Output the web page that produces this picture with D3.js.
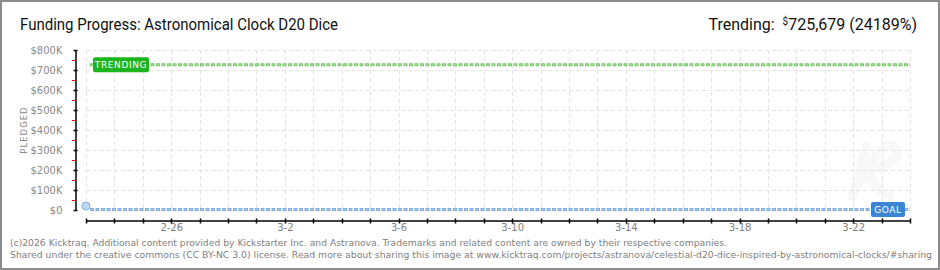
<!DOCTYPE html>
<html>
<head>
<meta charset="utf-8">
<script src="https://cdn.jsdelivr.net/npm/d3@7"></script>
<style>
  body { margin: 0; background: #fff; }
  svg { display: block; }
</style>
</head>
<body>
<div id="chart"></div>
<script>
// chart data
var startDate = "2026-02-23";
var endDate = "2026-03-24";
var pledgedDates = ["2026-02-23"];
var pledgedValues = [20000];
var goalValue = 3000;
var trendingValue = 725679;
var trendingPct = "24189%";
var yTicks = [0, 100000, 200000, 300000, 400000, 500000, 600000, 700000, 800000];
var yMinorTicks = [50000, 150000, 250000, 350000, 450000, 550000, 650000, 750000];
var yTickLabels = ["$0", "$100K", "$200K", "$300K", "$400K", "$500K", "$600K", "$700K", "$800K"];
var xTickLabels = ["2-26", "3-2", "3-6", "3-10", "3-14", "3-18", "3-22"];

var title = "Funding Progress: Astronomical Clock D20 Dice";
var footer1 = "(c)2026 Kicktraq. Additional content provided by Kickstarter Inc. and Astranova. Trademarks and related content are owned by their respective companies.";
var footer2 = "Shared under the creative commons (CC BY-NC 3.0) license. Read more about sharing this image at www.kicktraq.com/projects/astranova/celestial-d20-dice-inspired-by-astronomical-clocks/#sharing";

(function () {
  "use strict";

  var width = 940, height = 270;
  var parse = d3.timeParse("%Y-%m-%d");
  var fmtDay = d3.timeFormat("%-m-%-d");
  var font = "'DejaVu Sans', Verdana, sans-serif";

  var svg = d3.select("#chart").append("svg")
    .attr("width", width)
    .attr("height", height);

  // frame
  svg.append("rect")
    .attr("x", 1).attr("y", 1)
    .attr("width", width - 2).attr("height", height - 2)
    .attr("fill", "#fff")
    .attr("stroke", "#8c8c8c")
    .attr("stroke-width", 2);

  var x = d3.scaleTime()
    .domain([parse(startDate), parse(endDate)])
    .range([86, 910]);
  var y = d3.scaleLinear()
    .domain([0, 800000])
    .range([210, 50]);
  var days = d3.timeDay.range(parse(startDate), d3.timeDay.offset(parse(endDate), 1));

  // watermark logo (faint)
  svg.append("path")
    .attr("d", "M866,146 C862,165 856,182 852,196 M852,196 C858,180 872,168 882,166 C896,163 902,150 894,146 C884,142 868,160 870,172 C872,184 880,192 890,196")
    .attr("fill", "none")
    .attr("stroke", "#f8f8f8")
    .attr("stroke-width", 9)
    .attr("stroke-linecap", "round")
    .attr("stroke-linejoin", "round");

  // grid
  var grid = svg.append("g")
    .attr("stroke", "#e3e3e3")
    .attr("stroke-width", 1)
    .attr("stroke-dasharray", "4,3");
  grid.selectAll("line.v")
    .data(days)
    .enter()
    .append("line")
    .attr("x1", function (d) { return Math.round(x(d)) + 0.5; })
    .attr("x2", function (d) { return Math.round(x(d)) + 0.5; })
    .attr("y1", y(800000))
    .attr("y2", y(0));
  grid.selectAll("line.h")
    .data(yTicks.slice(1))
    .enter()
    .append("line")
    .attr("x1", x.range()[0])
    .attr("x2", x.range()[1])
    .attr("y1", function (d) { return Math.round(y(d)) + 0.5; })
    .attr("y2", function (d) { return Math.round(y(d)) + 0.5; });

  // y axis
  var yAxis = svg.append("g")
    .attr("transform", "translate(75.5,0)")
    .call(d3.axisLeft(y)
      .tickValues(yTicks)
      .tickFormat(function (d, i) { return yTickLabels[i]; })
      .tickSizeOuter(0)
      .tickPadding(7));
  yAxis.select(".domain").attr("stroke", "#000").attr("stroke-width", 1.5);
  yAxis.selectAll(".tick line")
    .attr("x1", -2).attr("x2", 2)
    .attr("stroke", "#000").attr("stroke-width", 1.5);
  yAxis.selectAll(".tick text")
    .attr("font-family", font)
    .attr("font-size", 10)
    .attr("fill", "#8a8a8a");
  yAxis.selectAll("line.minor")
    .data(yMinorTicks)
    .enter()
    .append("line")
    .attr("class", "minor")
    .attr("x1", -3.5).attr("x2", 0)
    .attr("y1", function (d) { return Math.round(y(d)) + 0.5; })
    .attr("y2", function (d) { return Math.round(y(d)) + 0.5; })
    .attr("stroke", "#e00000")
    .attr("stroke-width", 1);

  svg.append("text")
    .attr("transform", "translate(27,130) rotate(-90)")
    .attr("text-anchor", "middle")
    .attr("font-family", font)
    .attr("font-size", 8.5)
    .attr("letter-spacing", 1)
    .attr("fill", "#8a8a8a")
    .text("PLEDGED");

  // x axis
  var xAxis = svg.append("g")
    .attr("transform", "translate(0,220.5)")
    .call(d3.axisBottom(x)
      .tickValues(days.filter(function (d) { return xTickLabels.indexOf(fmtDay(d)) >= 0; }))
      .tickFormat(fmtDay)
      .tickSizeOuter(0));
  xAxis.select(".domain").attr("stroke", "#000").attr("stroke-width", 1.5);
  xAxis.selectAll(".tick line").remove();
  xAxis.selectAll(".tick text")
    .attr("y", 3)
    .attr("font-family", font)
    .attr("font-size", 10)
    .attr("fill", "#808080");
  xAxis.selectAll("line.day")
    .data(days)
    .enter()
    .append("line")
    .attr("class", "day")
    .attr("x1", function (d) { return Math.round(x(d)) + 0.5; })
    .attr("x2", function (d) { return Math.round(x(d)) + 0.5; })
    .attr("y1", -2).attr("y2", 3)
    .attr("stroke", "#000").attr("stroke-width", 1.5);

  // dotted level lines (outer squares + lighter centres)
  function levelLine(value, dark, light) {
    var yy = y(value);
    svg.append("line")
      .attr("x1", x.range()[0] + 4).attr("x2", x.range()[1])
      .attr("y1", yy).attr("y2", yy)
      .attr("stroke", dark).attr("stroke-width", 3)
      .attr("stroke-dasharray", "4,1.5");
    svg.append("line")
      .attr("x1", x.range()[0] + 4).attr("x2", x.range()[1])
      .attr("y1", yy).attr("y2", yy)
      .attr("stroke", light).attr("stroke-width", 1)
      .attr("stroke-dasharray", "2,3.5")
      .attr("stroke-dashoffset", -1);
  }
  levelLine(goalValue, "#7eaadc", "#b8d3f0");
  levelLine(trendingValue, "#78c868", "#b5e3ab");

  // labels on the level lines
  function tag(text, bx, value, w, fill) {
    var g = svg.append("g")
      .attr("transform", "translate(" + bx + "," + (y(value) - 7.5) + ")");
    g.append("rect")
      .attr("width", w).attr("height", 15)
      .attr("rx", 2)
      .attr("fill", fill);
    g.append("text")
      .attr("x", w / 2).attr("y", 11)
      .attr("text-anchor", "middle")
      .attr("font-family", font)
      .attr("font-size", 9)
      .attr("letter-spacing", 0.6)
      .attr("fill", "#fff")
      .text(text);
  }
  tag("TRENDING", x.range()[0] + 7, trendingValue, 56, "#1db51d");
  tag("GOAL", x.range()[1] - 39, goalValue, 34, "#3a86d5");

  // pledged points
  svg.selectAll("circle.pledged")
    .data(pledgedDates)
    .enter()
    .append("circle")
    .attr("class", "pledged")
    .attr("cx", function (d) { return x(parse(d)); })
    .attr("cy", function (d, i) { return y(pledgedValues[i]); })
    .attr("r", 4)
    .attr("fill", "#bed7f3")
    .attr("stroke", "#8ab0dd")
    .attr("stroke-width", 1);

  // title
  svg.append("text")
    .attr("x", 20).attr("y", 30)
    .attr("font-family", "Roboto, sans-serif")
    .attr("font-size", 16)
    .attr("fill", "#111")
    .attr("textLength", 318)
    .attr("lengthAdjust", "spacingAndGlyphs")
    .text(title);

  var tr = svg.append("text")
    .attr("x", 917).attr("y", 30)
    .attr("text-anchor", "end")
    .attr("font-family", "Roboto, sans-serif")
    .attr("font-size", 16)
    .attr("fill", "#111");
  tr.append("tspan").text("Trending:\u00a0\u00a0");
  tr.append("tspan").attr("font-size", 10).attr("dy", -5).text("$");
  tr.append("tspan").attr("dy", 5).text(d3.format(",")(trendingValue) + " (" + trendingPct + ")");

  // footer
  svg.append("text")
    .attr("x", 10).attr("y", 246)
    .attr("font-family", font)
    .attr("font-size", 9)
    .attr("fill", "#808080")
    .attr("textLength", 717)
    .attr("lengthAdjust", "spacingAndGlyphs")
    .text(footer1);
  svg.append("text")
    .attr("x", 10).attr("y", 258)
    .attr("font-family", font)
    .attr("font-size", 8.4)
    .attr("fill", "#808080")
    .attr("textLength", 922)
    .attr("lengthAdjust", "spacingAndGlyphs")
    .text(footer2);
}());
</script>
</body>
</html>
